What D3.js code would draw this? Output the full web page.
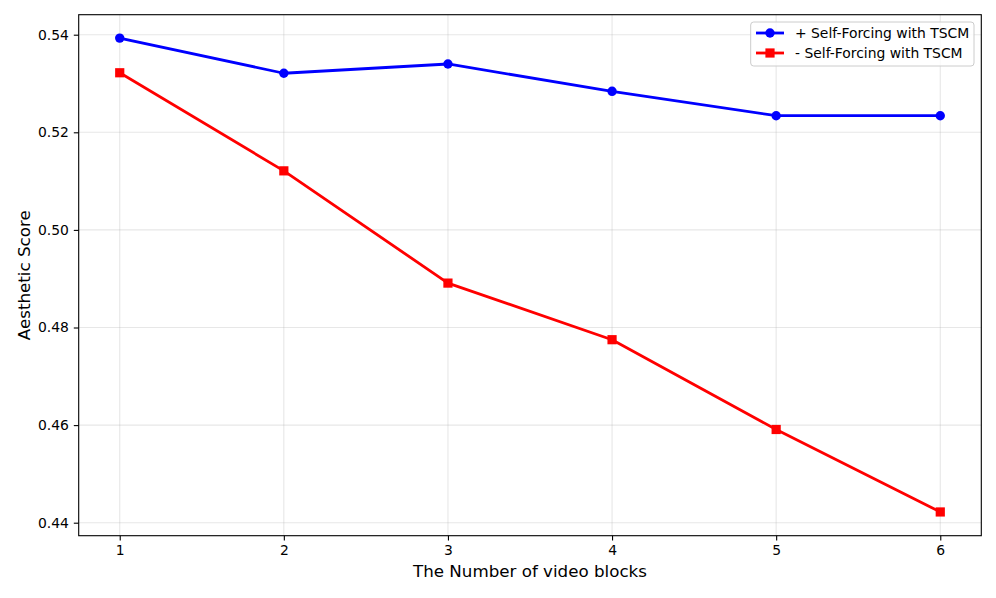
<!DOCTYPE html>
<html><head><meta charset="utf-8">
<script src="https://cdn.jsdelivr.net/npm/d3@7"></script>
<style>body{margin:0;background:#fff;} svg{display:block;font-family:"DejaVu Sans",sans-serif;}</style>
</head><body>
<svg id="c" width="996" height="598"></svg>
<script>
const blocks = [1, 2, 3, 4, 5, 6];
const withTSCM = [0.5393, 0.5321, 0.5340, 0.5284, 0.5234, 0.5234];
const withoutTSCM = [0.5322, 0.5121, 0.4891, 0.4775, 0.4591, 0.4422];
const yTicks = [0.44, 0.46, 0.48, 0.50, 0.52, 0.54];
const seriesNames = ["+ Self-Forcing with TSCM", "- Self-Forcing with TSCM"];

const svg = d3.select("#c");
const L = 78.7, R = 981.3, T = 14.7, B = 535.7;
const x = d3.scaleLinear().domain([0.75, 6.25]).range([L, R]);
const y = d3.scaleLinear().domain([0.44, 0.54]).range([522.7, 34.7]);

// grid
const g = svg.append("g");
g.selectAll(".gx").data(blocks).enter().append("line")
  .attr("x1", d => x(d)).attr("x2", d => x(d)).attr("y1", T).attr("y2", B)
  .attr("stroke", "#b0b0b0").attr("stroke-opacity", 0.3).attr("stroke-width", 1.1);
g.selectAll(".gy").data(yTicks).enter().append("line")
  .attr("x1", L).attr("x2", R).attr("y1", d => y(d)).attr("y2", d => y(d))
  .attr("stroke", "#b0b0b0").attr("stroke-opacity", 0.3).attr("stroke-width", 1.1);

// axes
const xAxis = d3.axisBottom(x).tickValues(blocks).tickFormat(d3.format("d")).tickSize(4.9).tickPadding(4.9);
const yAxis = d3.axisLeft(y).tickValues(yTicks).tickFormat(d3.format(".2f")).tickSize(4.9).tickPadding(4.9);
const ax = svg.append("g").attr("transform", `translate(0,${B})`).call(xAxis);
const ay = svg.append("g").attr("transform", `translate(${L},0)`).call(yAxis);
[ax, ay].forEach(a => {
  a.select(".domain").remove();
  a.selectAll(".tick line").attr("stroke", "#000").attr("stroke-width", 1.1);
  a.selectAll(".tick text").attr("font-size", "13.9px").attr("fill", "#000").attr("font-family", "DejaVu Sans");
});

// series
const series = [
  {vals: withTSCM, color: "#0000ff", shape: "circle"},
  {vals: withoutTSCM, color: "#ff0000", shape: "square"}
];
const line = d3.line().x((d, i) => x(blocks[i])).y(d => y(d));
series.forEach(s => {
  svg.append("path").datum(s.vals).attr("d", line).attr("fill", "none")
    .attr("stroke", s.color).attr("stroke-width", 2.8).attr("stroke-linejoin", "round").attr("stroke-linecap", "square");
  if (s.shape === "circle") {
    svg.selectAll(null).data(s.vals).enter().append("circle")
      .attr("cx", (d, i) => x(blocks[i])).attr("cy", d => y(d)).attr("r", 4.7).attr("fill", s.color);
  } else {
    svg.selectAll(null).data(s.vals).enter().append("rect")
      .attr("x", (d, i) => x(blocks[i]) - 4.6).attr("y", d => y(d) - 4.6).attr("width", 9.2).attr("height", 9.2).attr("fill", s.color);
  }
});

// frame
svg.append("rect").attr("x", L).attr("y", T).attr("width", R - L).attr("height", B - T)
  .attr("fill", "none").attr("stroke", "#000").attr("stroke-width", 1.1);

// labels
svg.append("text").attr("x", (L + R) / 2).attr("y", 577).attr("text-anchor", "middle")
  .attr("font-size", "16.7px").text("The Number of video blocks");
svg.append("text").attr("transform", `translate(30,${(T + B) / 2}) rotate(-90)`).attr("text-anchor", "middle")
  .attr("font-size", "16.7px").text("Aesthetic Score");

// legend
const lg = svg.append("g");
lg.append("rect").attr("x", 750.7).attr("y", 22).attr("width", 223.3).attr("height", 44).attr("rx", 3)
  .attr("fill", "#fff").attr("fill-opacity", 0.8).attr("stroke", "#cccccc").attr("stroke-width", 1);
series.forEach((s, i) => {
  const yy = 33 + i * 20;
  lg.append("line").attr("x1", 756).attr("x2", 784).attr("y1", yy).attr("y2", yy)
    .attr("stroke", s.color).attr("stroke-width", 2.8);
  if (s.shape === "circle") lg.append("circle").attr("cx", 770).attr("cy", yy).attr("r", 4.7).attr("fill", s.color);
  else lg.append("rect").attr("x", 765.4).attr("y", yy - 4.6).attr("width", 9.2).attr("height", 9.2).attr("fill", s.color);
  lg.append("text").attr("x", 795).attr("y", yy).attr("dy", "0.35em").attr("font-size", "13.9px").text(seriesNames[i]);
});
</script>
</body></html>
